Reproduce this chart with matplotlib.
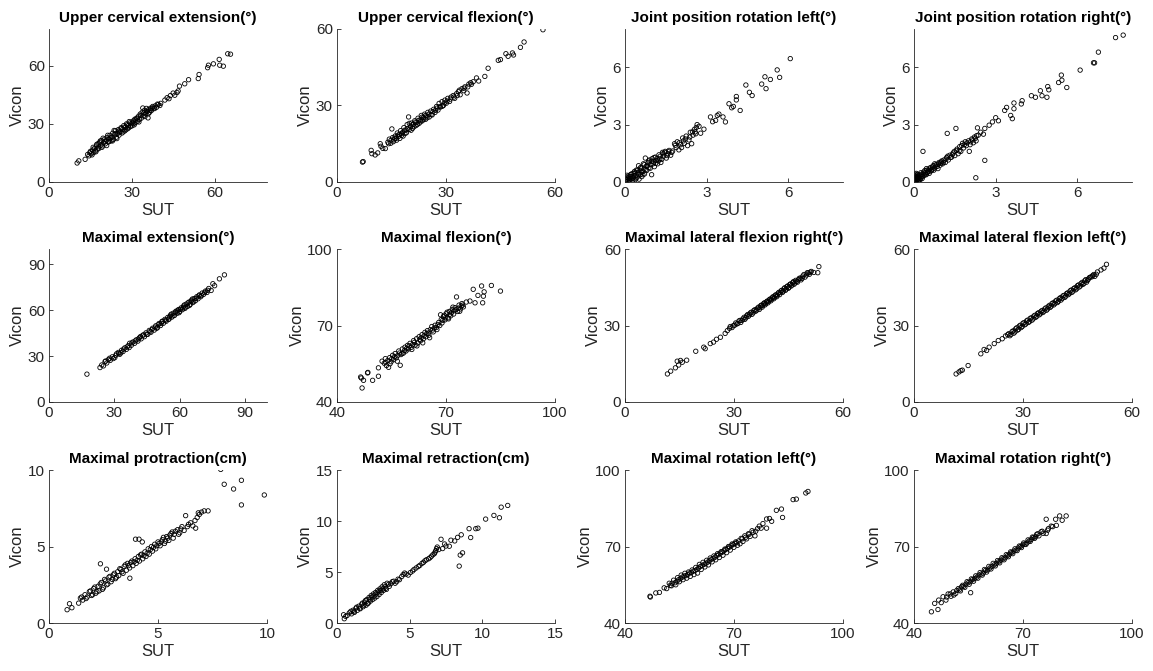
import numpy as np
import matplotlib
matplotlib.use('Agg')
import matplotlib.pyplot as plt

# SUT vs Vicon readings per test (sut, vicon)
upper_ext = [(10.2,9.8),(10.8,10.9),(13.1,11.7),(14.0,14.2),(14.5,13.5),(15.0,15.8),(15.3,14.6),(15.8,16.5),(16.2,15.2),(16.5,17.4),
             (16.9,16.1),(17.2,18.6),(17.5,17.0),(17.8,19.8),(18.1,18.2),(18.4,20.5),(18.8,19.0),(19.1,21.4),(19.4,18.6),(19.8,20.3),
             (20.1,22.1),(20.4,19.7),(20.8,21.5),(21.1,23.0),(21.5,20.6),(21.8,22.4),(22.1,24.1),(22.5,21.3),(22.8,23.2),(23.1,25.2),
             (23.4,22.0),(23.8,24.3),(24.1,26.4),(24.4,23.1),(24.8,25.0),(25.1,27.0),(25.4,24.2),(25.8,26.1),(26.1,28.0),(26.5,25.3),
             (26.8,27.2),(27.1,29.1),(27.5,26.4),(27.8,28.3),(28.1,30.0),(28.5,27.5),(28.8,29.2),(29.1,31.2),(29.5,28.6),(29.8,30.1),
             (30.1,29.0),(30.5,31.5),(30.8,30.2),(31.1,32.4),(31.5,30.8),(31.8,33.0),(32.1,31.4),(32.5,34.0),(32.8,32.3),(33.1,35.1),
             (33.5,33.0),(33.8,36.0),(34.0,38.2),(34.2,34.1),(34.6,37.0),(35.0,35.2),(35.3,38.0),(35.6,36.4),(35.9,33.1),(36.2,37.5),
             (36.5,36.0),(36.8,38.1),(37.2,37.0),(37.6,39.0),(38.0,38.2),(38.5,39.3),(39.0,38.6),(39.6,40.0),(40.2,39.5),(42.0,42.3),
             (42.8,43.5),(44.0,44.6),(45.0,45.9),(45.6,44.8),(46.4,46.2),(47.3,49.5),(49.2,50.7),(50.6,52.8),(54.1,53.4),(54.4,55.5),
             (57.5,59.0),(57.8,60.3),(59.6,61.0),(61.7,63.3),(61.9,60.3),(63.2,59.8),(64.8,66.2),(65.8,66.0),
             (14.8,15.1),(15.6,14.0),(16.0,17.9),(17.0,15.6),(17.3,19.4),(18.0,17.2),(18.6,21.2),(19.2,17.9),(19.6,22.6),(20.3,20.9),
             (20.9,18.8),(21.3,24.1),(21.9,21.0),(22.4,22.9),(23.0,21.2),(23.6,26.6),(24.0,24.9),(24.6,22.4),(25.2,26.3),(25.6,25.5),
             (26.3,27.6),(26.9,25.9),(27.3,28.3),(27.9,27.0),(28.3,29.5),(28.9,28.0),(29.3,30.5),(30.3,30.6),(30.9,29.5),(31.3,31.9),
             (32.0,32.9),(32.6,31.0),(33.3,34.3),(34.4,35.6),(34.8,33.8),(35.4,36.6),(36.0,35.2),(36.7,37.0),(37.4,38.2),(38.3,37.9),
             (39.3,40.2),(40.5,40.6),(43.5,43.0),(46.8,47.0)]

upper_flex = [(7.0,7.8),(7.2,8.0),(9.4,12.4),(9.6,11.1),(10.5,10.6),(11.2,11.4),(11.9,15.0),(12.1,14.0),(12.6,13.2),(13.3,13.1),
              (14.0,15.6),(14.4,16.8),(14.8,15.2),(15.1,20.8),(15.3,17.4),(15.7,16.5),(16.0,18.0),(16.3,17.1),(16.6,19.2),(16.9,17.8),
              (17.2,18.6),(17.5,20.1),(17.8,18.3),(18.1,19.5),(18.4,21.3),(18.7,19.0),(19.0,20.4),(19.3,22.5),(19.7,25.5),(19.9,20.6),
              (20.2,21.8),(20.5,23.1),(20.8,21.0),(21.1,22.6),(21.4,24.0),(21.7,22.1),(22.0,23.4),(22.3,25.0),(22.6,23.0),(22.9,24.3),
              (23.2,26.1),(23.5,24.0),(23.8,25.3),(24.1,26.6),(24.4,24.6),(24.7,25.9),(25.0,27.3),(25.4,25.5),(25.8,27.8),(26.2,26.3),
              (26.6,28.5),(27.0,27.3),(27.4,29.6),(27.8,28.2),(28.1,30.8),(28.5,29.4),(28.9,31.5),(29.3,30.0),(29.7,32.1),(30.1,30.9),
              (30.5,32.8),(31.0,31.6),(31.4,33.3),(32.0,33.9),(32.4,32.8),(32.9,34.6),(33.4,35.4),(33.9,34.2),(34.4,36.6),(34.9,35.8),
              (35.2,37.3),(35.8,34.9),(36.3,38.4),(36.8,38.9),(37.5,39.3),(38.4,40.8),(39.0,39.6),(40.7,41.4),(41.6,44.6),(44.4,47.7),
              (45.0,48.0),(46.5,50.3),(47.1,49.3),(48.3,50.6),(48.6,49.8),(50.5,52.8),(51.5,54.9),(56.7,59.7),
              (14.2,15.0),(14.9,16.4),(15.5,15.8),(15.9,17.2),(16.4,16.4),(16.8,18.4),(17.3,17.1),(17.7,19.0),(18.2,18.0),(18.6,20.3),
              (19.1,19.3),(19.5,21.0),(19.9,23.0),(20.4,20.3),(20.7,22.4),(21.2,21.7),(21.6,23.5),(22.1,22.5),(22.5,24.2),(23.0,23.6),
              (23.4,25.4),(23.9,24.6),(24.3,26.0),(24.8,25.2),(25.3,26.6),(25.9,26.4),(26.4,27.6),(27.1,28.1),(27.6,29.0),(28.3,29.6),
              (29.0,29.7),(29.6,31.0),(30.3,31.7),(31.2,32.5),(32.2,33.3),(33.1,33.9),(33.7,36.0),(35.0,36.8),(36.0,37.3),(37.0,38.3)]

jp_rot_left = [(0.02,0.05),(0.05,0.25),(0.08,0.12),(0.10,0.02),(0.12,0.30),(0.15,0.18),(0.18,0.05),(0.20,0.38),(0.22,0.15),(0.25,0.28),
               (0.28,0.08),(0.30,0.45),(0.32,0.22),(0.35,0.55),(0.38,0.12),(0.40,0.35),(0.42,0.62),(0.45,0.25),(0.48,0.48),(0.50,0.85),
               (0.52,0.15),(0.55,0.60),(0.58,0.40),(0.60,0.72),(0.62,0.28),(0.65,0.55),(0.68,0.95),(0.70,0.68),(0.72,0.42),(0.75,1.25),
               (0.78,0.82),(0.80,0.60),(0.85,1.02),(0.88,0.75),(0.90,1.15),(0.95,0.90),(0.98,0.38),(1.00,1.22),(1.05,1.05),(1.08,0.80),
               (1.12,1.30),(1.15,1.12),(1.20,0.95),(1.25,1.42),(1.28,1.20),(1.32,1.02),(1.38,1.55),(1.42,1.35),(1.48,1.60),(1.52,1.25),
               (1.58,1.48),(1.62,1.65),(1.68,1.40),(1.75,1.62),(1.82,2.00),(1.88,1.80),(1.92,2.10),(1.98,1.68),(2.05,1.95),(2.12,2.30),
               (2.18,2.02),(2.25,2.40),(2.30,1.90),(2.35,2.20),(2.40,2.60),(2.45,2.00),(2.50,2.45),(2.55,2.75),(2.60,2.52),(2.65,3.00),
               (2.72,2.91),(2.78,2.55),(2.90,2.76),(3.14,3.40),(3.22,3.15),(3.33,3.22),(3.39,3.48),(3.45,3.55),(3.60,3.40),(3.69,3.14),
               (3.82,4.09),(3.92,3.88),(3.98,3.95),(4.09,4.47),(4.09,4.29),(4.23,3.74),(4.44,5.07),(4.57,4.69),(4.67,4.52),(5.02,5.12),
               (5.14,5.50),(5.18,4.88),(5.34,5.36),(5.59,5.86),(5.68,5.47),(6.07,6.45),
               (0.03,0.15),(0.07,0.35),(0.11,0.20),(0.16,0.10),(0.19,0.28),(0.24,0.42),(0.27,0.18),(0.33,0.32),(0.37,0.48),(0.41,0.20),
               (0.46,0.62),(0.51,0.40),(0.57,0.75),(0.61,0.52),(0.66,0.38),(0.71,0.90),(0.77,0.65),(0.83,0.85),(0.87,1.10),(0.93,0.72),
               (0.97,1.08),(1.03,0.95),(1.07,1.28),(1.13,0.98),(1.18,1.22),(1.23,1.10),(1.30,1.35),(1.35,1.18),(1.40,1.48),(1.46,1.55),
               (1.55,1.38),(1.60,1.58),(1.72,1.55),(1.85,1.92),(2.00,2.05),(2.08,1.80),(2.15,2.15),(2.22,2.25),(2.38,2.35),(2.48,2.62),
               (2.58,2.62),(2.62,2.85)]

jp_rot_right = [(0.00,0.10),(0.02,0.35),(0.04,0.02),(0.06,0.20),(0.08,0.45),(0.10,0.08),(0.12,0.28),(0.14,0.15),(0.16,0.05),(0.18,0.38),
                (0.20,0.22),(0.22,0.10),(0.25,0.48),(0.28,0.30),(0.30,0.18),(0.33,1.60),(0.35,0.52),(0.38,0.35),(0.40,0.60),(0.43,0.42),
                (0.46,0.70),(0.50,0.50),(0.53,0.62),(0.56,0.45),(0.60,0.75),(0.63,0.58),(0.66,0.68),(0.70,0.85),(0.73,0.62),(0.76,0.95),
                (0.80,0.78),(0.84,0.92),(0.88,0.70),(0.92,1.02),(0.96,0.88),(1.00,1.05),(1.05,0.95),(1.10,1.15),(1.15,1.02),(1.22,2.54),
                (1.20,1.28),(1.26,1.15),(1.32,1.40),(1.38,1.30),(1.44,1.52),(1.50,1.38),(1.54,2.80),(1.56,1.65),(1.62,1.48),(1.68,1.85),
                (1.72,1.60),(1.78,2.02),(1.82,1.78),(1.88,2.10),(1.92,1.90),(2.00,2.15),(2.03,1.60),(2.06,1.95),(2.12,2.25),(2.18,2.05),
                (2.22,2.35),(2.27,0.22),(2.28,2.15),(2.33,2.83),(2.36,2.45),(2.45,2.60),(2.55,2.50),(2.60,2.80),(2.60,1.13),(2.76,2.97),
                (2.88,3.14),(3.00,3.36),(3.10,3.20),(3.33,3.74),(3.40,3.90),(3.55,3.48),(3.61,3.31),(3.67,4.13),(3.67,3.83),(3.94,4.08),
                (3.97,4.25),(4.31,4.51),(4.46,4.43),(4.64,4.77),(4.70,4.51),(4.88,4.43),(4.91,4.99),(4.95,4.82),(5.31,5.20),(5.41,5.59),
                (5.43,5.32),(5.61,4.94),(6.10,5.85),(6.59,6.23),(6.63,6.23),(6.77,6.79),(7.40,7.55),(7.68,7.68),
                (0.01,0.22),(0.03,0.05),(0.05,0.40),(0.07,0.12),(0.09,0.30),(0.11,0.18),(0.13,0.40),(0.15,0.05),(0.17,0.25),(0.19,0.12),
                (0.21,0.32),(0.24,0.18),(0.27,0.40),(0.32,0.28),(0.36,0.42),(0.41,0.50),(0.45,0.38),(0.48,0.62),(0.55,0.55),(0.58,0.68),
                (0.65,0.62),(0.68,0.78),(0.75,0.72),(0.78,0.88),(0.86,0.82),(0.90,0.95),(0.98,0.98),(1.02,1.10),(1.08,1.02),(1.18,1.20),
                (1.24,1.35),(1.34,1.28),(1.42,1.45),(1.48,1.60),(1.58,1.72),(1.66,1.62),(1.75,1.90),(1.85,1.95),(1.95,2.05),(2.08,2.10),
                (2.15,2.20),(2.25,2.28),(2.30,2.42)]

max_ext = [(17.4,18.2),(23.4,22.5),(24.2,24.2),(25.0,23.6),(25.7,26.4),(26.5,25.5),(27.3,27.8),(28.1,27.2),(29.0,29.5),(30.2,29.0),
           (31.0,31.5),(31.8,32.4),(32.5,31.2),(33.3,33.8),(34.0,33.0),(34.8,35.4),(35.5,34.4),(36.3,36.8),(37.0,38.4),(37.8,37.1),
           (38.5,39.2),(39.3,38.4),(40.0,40.6),(40.8,39.8),(41.5,42.0),(42.3,41.3),(43.0,43.6),(43.8,42.7),(44.5,45.2),(45.3,44.2),
           (46.0,46.8),(46.8,45.6),(47.5,48.2),(48.3,47.0),(49.0,49.8),(49.8,48.6),(50.5,51.3),(51.2,50.0),(51.8,52.6),(52.5,51.5),
           (53.2,54.0),(53.8,52.8),(54.5,55.3),(55.1,54.2),(55.8,56.8),(56.4,55.5),(57.0,58.0),(57.6,56.6),(58.2,59.3),(58.8,58.0),
           (59.4,60.4),(60.0,59.2),(60.6,61.5),(61.2,60.3),(61.8,62.7),(62.4,61.2),(63.0,64.0),(63.6,62.5),(64.2,65.3),(64.8,63.8),
           (65.4,66.5),(66.0,65.0),(66.6,67.6),(67.2,66.2),(67.8,68.8),(68.4,67.5),(69.0,70.0),(69.6,68.8),(70.3,71.2),(71.0,70.4),
           (71.8,72.5),(72.5,71.6),(73.3,74.2),(74.4,72.9),(75.2,77.3),(76.0,76.0),(78.2,80.5),(80.5,83.1),
           (26.0,26.8),(27.8,28.6),(29.5,28.4),(30.6,30.5),(32.0,31.6),(33.0,32.2),(34.3,34.6),(35.9,36.0),(36.8,35.6),(38.0,38.6),
           (39.6,39.9),(41.0,41.2),(42.0,42.8),(43.4,43.9),(44.8,44.3),(46.3,46.0),(47.2,47.3),(48.7,48.9),(49.4,48.2),(50.2,50.6),
           (51.5,51.4),(52.2,52.9),(53.5,53.4),(54.8,54.0),(55.4,55.8),(56.1,57.4),(56.9,56.3),(58.0,58.6),(59.0,59.8),(59.7,58.4),
           (60.3,60.5),(61.5,61.6),(62.1,63.4),(62.7,62.0),(63.8,64.8),(64.5,63.2),(65.1,65.8),(65.8,67.3),(66.4,65.6),(67.5,67.8),
           (68.8,69.4),(70.0,69.6),(71.4,71.6),(72.8,73.0)]

max_flex = [(46.5,49.8),(46.7,49.4),(46.9,45.5),(47.3,48.5),(48.4,51.4),(48.5,51.6),(49.8,48.5),(51.4,53.4),(51.4,50.1),(52.4,56.0),
            (53.0,55.2),(53.3,57.0),(53.6,54.3),(54.0,56.3),(54.2,53.6),(54.5,57.4),(54.9,55.8),(55.3,58.3),(55.6,56.6),(56.0,59.0),
            (56.3,57.3),(56.7,58.2),(57.0,60.0),(57.4,54.4),(57.6,58.6),(58.0,60.8),(58.3,59.2),(58.7,61.5),(59.0,60.0),(59.4,62.2),
            (59.7,60.8),(60.1,63.0),(60.4,61.4),(60.8,62.5),(61.1,64.1),(61.5,62.3),(61.9,64.8),(62.2,63.1),(62.6,65.6),(63.0,64.0),
            (63.4,66.4),(63.8,64.8),(64.2,67.3),(64.5,65.6),(64.9,68.0),(65.3,66.2),(65.7,68.4),(66.1,69.6),(66.5,67.5),(67.0,70.1),
            (67.5,68.4),(68.0,71.2),(68.5,74.2),(68.9,71.0),(69.3,73.5),(69.7,72.2),(70.1,74.6),(70.5,73.0),(70.9,75.5),(71.3,73.8),
            (71.7,76.3),(72.1,74.5),(72.5,77.0),(72.9,81.2),(73.2,75.5),(73.6,78.0),(74.0,76.5),(74.4,78.6),(74.8,77.3),(75.6,79.2),
            (76.6,79.6),(77.5,84.2),(78.0,78.9),(78.8,81.8),(79.8,85.5),(80.1,78.9),(80.3,81.5),(80.5,83.2),(82.5,85.7),(85.0,83.5),
            (53.4,55.6),(54.6,55.0),(55.1,57.0),(55.9,57.8),(56.6,56.0),(57.2,59.2),(57.9,59.0),(58.6,60.2),(59.2,61.0),(59.9,62.0),
            (60.6,60.6),(61.3,63.4),(62.0,62.0),(62.8,64.6),(63.2,65.2),(63.6,63.2),(64.0,66.0),(64.7,66.8),(65.1,67.0),(65.5,65.2),
            (66.3,68.2),(66.8,69.0),(67.3,69.2),(67.8,70.4),(68.3,70.0),(68.7,72.4),(69.1,72.0),(69.5,74.0),(69.9,73.0),(70.3,75.2),
            (70.7,72.6),(71.1,74.4),(71.5,75.0),(71.9,77.2),(72.3,75.8),(72.7,76.2),(73.4,76.8),(73.8,75.6),(74.2,77.6),(74.6,78.0)]

lat_flex_right = [(11.7,11.0),(12.6,12.1),(13.9,13.4),(14.4,16.0),(14.8,14.5),(15.3,16.3),(15.8,15.6),(17.0,16.4),(19.5,19.9),(21.7,21.5),
                  (22.1,20.9),(23.5,22.9),(24.4,23.5),(25.2,24.6),(26.3,25.4),(27.6,26.9),(28.2,28.0),(28.8,28.9),(29.5,29.2),(30.2,30.1),
                  (30.8,30.6),(31.4,31.8),(31.9,31.2),(32.5,32.6),(33.0,32.4),(33.5,33.8),(34.0,33.6),(34.5,34.9),(35.0,34.4),(35.5,35.9),
                  (36.0,35.6),(36.5,36.8),(37.0,36.3),(37.4,37.8),(37.8,37.2),(38.2,38.6),(38.6,38.1),(39.0,39.3),(39.4,38.9),(39.8,40.2),
                  (40.2,39.7),(40.6,41.0),(41.0,40.5),(41.4,41.9),(41.8,41.3),(42.2,42.7),(42.6,42.1),(43.0,43.6),(43.4,43.0),(43.8,44.4),
                  (44.2,43.8),(44.6,45.2),(45.0,44.6),(45.4,46.1),(45.8,45.5),(46.2,46.8),(46.6,46.2),(47.0,47.7),(47.5,47.0),(48.0,48.5),
                  (48.5,47.9),(49.0,49.4),(49.6,49.0),(50.2,50.7),(50.8,50.1),(51.3,51.2),(52.0,50.8),(53.1,50.7),(53.4,53.1),
                  (29.0,29.6),(29.8,29.9),(30.5,31.0),(31.1,30.8),(31.7,32.0),(32.2,32.0),(32.8,33.2),(33.3,33.0),(33.8,34.3),(34.3,34.2),
                  (34.8,35.2),(35.3,35.0),(35.8,36.2),(36.3,36.0),(36.8,37.2),(37.2,37.0),(37.6,38.0),(38.0,37.9),(38.4,38.9),(38.8,38.6),
                  (39.2,39.6),(39.6,39.5),(40.0,40.4),(40.4,40.3),(40.8,41.3),(41.2,41.0),(41.6,42.0),(42.0,41.9),(42.4,43.0),(42.8,42.9),
                  (43.2,43.8),(43.6,43.5),(44.0,44.8),(44.4,44.3),(44.8,45.5),(45.2,45.0),(45.6,46.3),(46.0,45.9),(46.4,47.2),(46.8,46.7),
                  (47.3,47.3),(47.8,48.0),(48.3,48.6),(48.8,48.5),(49.3,50.0),(50.0,49.8),(50.5,50.6),(51.0,50.9)]

lat_flex_left = [(11.6,11.0),(12.4,11.8),(12.9,12.3),(13.3,12.5),(14.9,14.3),(18.4,18.9),(19.3,20.6),(20.0,20.2),(20.7,21.5),(22.1,22.9),
                 (23.2,24.1),(24.3,24.8),(25.2,25.9),(25.8,26.4),(26.4,26.0),(27.0,27.6),(27.5,27.0),(28.0,28.7),(28.5,28.2),(29.0,29.8),
                 (29.5,29.2),(30.0,30.9),(30.5,30.3),(31.0,31.8),(31.5,31.2),(32.0,32.8),(32.5,32.1),(33.0,33.7),(33.5,33.2),(34.0,34.7),
                 (34.5,34.2),(35.0,35.6),(35.5,35.1),(36.0,36.5),(36.5,36.0),(37.0,37.5),(37.5,37.1),(38.0,38.6),(38.5,38.1),(39.0,39.6),
                 (39.5,39.0),(40.0,40.5),(40.5,40.0),(41.0,41.6),(41.5,41.0),(42.0,42.5),(42.5,42.1),(43.0,43.6),(43.5,43.0),(44.0,44.5),
                 (44.5,44.0),(45.0,45.6),(45.5,45.1),(46.0,46.5),(46.5,46.1),(47.0,47.5),(47.5,47.0),(48.0,48.2),(48.6,49.0),(49.2,49.6),
                 (49.8,49.3),(50.5,51.0),(51.5,51.8),(52.3,52.5),(53.0,54.0),
                 (26.1,26.8),(26.7,26.5),(27.3,27.9),(27.8,27.5),(28.3,29.1),(28.8,28.5),(29.3,30.1),(29.8,29.6),(30.3,31.1),(30.8,30.6),
                 (31.3,32.1),(31.8,31.5),(32.3,33.0),(32.8,32.6),(33.3,34.0),(33.8,33.6),(34.3,35.0),(34.8,34.6),(35.3,35.9),(35.8,35.6),
                 (36.3,36.9),(36.8,36.5),(37.3,37.9),(37.8,37.6),(38.3,38.9),(38.8,38.6),(39.3,39.9),(39.8,39.5),(40.3,40.9),(40.8,40.6),
                 (41.3,41.8),(41.8,41.5),(42.3,42.8),(42.8,42.5),(43.3,43.9),(43.8,43.5),(44.3,44.8),(44.8,44.4),(45.3,45.9),(45.8,45.5),
                 (46.3,46.9),(46.8,46.5),(47.3,48.0),(47.8,47.7),(48.3,48.8),(49.0,49.1),(49.5,50.0),(50.2,50.1)]

protraction = [(0.83,0.87),(0.94,1.26),(1.05,1.00),(1.36,1.30),(1.44,1.63),(1.55,1.50),(1.65,1.85),(1.75,1.70),(1.85,2.05),(1.95,1.80),
               (2.05,2.25),(2.15,1.95),(2.25,2.40),(2.30,2.10),(2.36,3.87),(2.40,2.65),(2.50,2.30),(2.55,2.85),(2.64,3.52),(2.65,2.50),
               (2.75,3.00),(2.85,2.70),(2.95,3.15),(3.05,2.90),(3.15,3.35),(3.20,3.10),(3.30,3.50),(3.40,3.25),(3.45,3.70),(3.55,3.45),
               (3.60,3.90),(3.71,2.93),(3.70,3.60),(3.80,4.05),(3.85,3.75),(3.95,4.20),(3.97,5.48),(4.00,3.90),(4.10,4.35),(4.13,5.48),
               (4.15,4.05),(4.25,4.50),(4.28,5.30),(4.30,4.20),(4.40,4.65),(4.45,4.35),(4.55,4.85),(4.60,4.50),(4.70,5.00),(4.75,4.70),
               (4.85,5.15),(4.90,4.85),(5.00,5.30),(5.10,5.05),(5.20,5.45),(5.30,5.20),(5.40,5.65),(5.50,5.40),(5.60,5.85),(5.70,5.55),
               (5.80,6.00),(5.95,5.80),(6.05,6.15),(6.20,6.05),(6.27,7.02),(6.35,6.30),(6.50,6.55),(6.60,6.35),(6.73,6.20),(6.80,6.90),
               (6.90,7.10),(7.12,7.33),(7.30,7.33),(7.88,10.04),(8.04,9.07),(8.47,8.76),(8.83,9.33),(8.83,7.72),(9.88,8.37),
               (1.50,1.70),(1.70,1.60),(1.90,2.10),(2.00,1.85),(2.10,2.35),(2.20,2.05),(2.35,2.55),(2.45,2.20),(2.60,2.75),(2.70,2.55),
               (2.80,3.05),(2.90,2.85),(3.00,3.25),(3.10,3.00),(3.25,3.55),(3.35,3.35),(3.50,3.80),(3.65,3.75),(3.75,3.95),(3.90,4.00),
               (4.05,4.10),(4.20,4.45),(4.35,4.40),(4.50,4.55),(4.65,4.80),(4.80,4.95),(4.95,5.05),(5.05,5.20),(5.15,5.30),(5.25,5.60),
               (5.35,5.35),(5.45,5.55),(5.55,5.75),(5.65,5.95),(5.75,5.80),(5.90,6.10),(6.00,5.90),(6.10,6.30),(6.40,6.45),(6.70,6.70),
               (6.85,7.20),(7.00,7.25)]

retraction = [(0.50,0.42),(0.45,0.81),(0.70,0.75),(0.85,1.00),(1.00,0.90),(1.10,1.25),(1.20,1.05),(1.30,1.45),(1.40,1.25),(1.50,1.65),
              (1.60,1.40),(1.70,1.85),(1.80,1.60),(1.90,2.05),(2.00,1.75),(2.05,2.30),(2.15,1.95),(2.20,2.50),(2.30,2.15),(2.35,2.70),
              (2.45,2.30),(2.50,2.85),(2.60,2.45),(2.65,3.00),(2.75,2.60),(2.80,3.20),(2.90,2.80),(2.95,3.35),(3.05,3.00),(3.10,3.55),
              (3.20,3.20),(3.25,3.75),(3.35,3.40),(3.45,3.90),(3.60,3.60),(3.80,4.05),(4.00,3.90),(4.20,4.30),(4.45,4.55),(4.65,4.90),
              (4.90,4.70),(5.20,5.10),(5.45,5.40),(5.70,5.65),(5.95,5.95),(6.15,6.20),(6.40,6.40),(6.60,6.70),(6.75,6.95),(6.85,7.30),
              (7.16,8.21),(7.27,7.30),(7.50,7.55),(7.73,7.53),(7.84,8.12),(8.10,8.05),(8.30,8.40),(8.41,5.58),(8.48,6.66),(8.55,8.65),
              (8.64,6.88),(9.09,9.25),(9.20,8.38),(9.55,9.25),(9.70,9.30),(10.23,10.19),(10.80,10.55),(11.18,10.32),(11.30,11.36),(11.75,11.53),
              (0.60,0.65),(0.95,1.15),(1.15,1.10),(1.35,1.55),(1.55,1.45),(1.75,1.95),(1.85,1.75),(1.95,2.20),(2.10,1.90),(2.25,2.35),
              (2.40,2.55),(2.55,2.65),(2.70,2.85),(2.85,3.05),(3.00,3.20),(3.15,3.35),(3.30,3.55),(3.40,3.30),(3.55,3.80),(3.70,3.85),
              (3.90,4.10),(4.10,4.05),(4.30,4.25),(4.55,4.75),(4.75,4.80),(5.05,4.95),(5.30,5.25),(5.60,5.55),(5.85,5.85),(6.05,6.10),
              (6.30,6.30),(6.50,6.55),(6.70,6.80),(6.80,7.10),(6.90,7.45),(7.00,7.20),(7.40,7.75)]

rot_left = [(46.9,50.5),(47.0,50.2),(48.5,51.8),(49.5,52.0),(50.8,53.8),(51.5,53.5),(52.2,55.6),(52.8,54.6),(53.4,56.8),(54.0,55.0),
            (54.5,57.8),(55.0,56.2),(55.5,58.8),(56.0,57.0),(56.5,59.5),(57.0,57.6),(57.5,60.0),(58.0,58.3),(58.5,60.8),(59.0,59.0),
            (59.5,61.8),(60.0,59.6),(60.5,63.0),(61.0,61.0),(61.5,63.8),(62.0,62.0),(62.5,64.6),(63.0,62.8),(63.5,65.5),(64.0,64.0),
            (64.5,66.3),(65.0,64.8),(65.5,67.2),(66.0,65.7),(66.5,68.0),(67.0,66.6),(67.5,69.0),(68.0,67.6),(68.5,70.0),(69.0,68.6),
            (69.5,71.0),(70.0,69.7),(70.5,71.8),(71.0,70.5),(71.7,71.1),(72.0,73.2),(72.5,72.0),(73.0,74.2),(73.5,73.0),(74.0,75.0),
            (74.5,74.0),(75.0,76.2),(75.8,74.2),(76.5,77.0),(77.0,78.0),(77.5,77.2),(78.0,79.0),(79.0,77.2),(79.0,80.8),(79.8,81.0),
            (80.4,79.9),(81.7,84.2),(83.1,84.7),(83.4,81.4),(86.3,88.4),(87.2,88.6),(89.8,91.0),(90.4,91.6),
            (52.5,54.8),(53.0,55.6),(53.8,55.8),(54.3,56.4),(54.8,57.0),(55.3,57.5),(55.8,58.0),(56.3,58.4),(56.8,58.6),(57.3,59.0),
            (57.8,59.6),(58.3,59.8),(58.8,60.3),(59.3,60.6),(59.8,61.0),(60.3,61.6),(60.8,62.2),(61.3,62.6),(61.8,63.0),(62.3,63.4),
            (62.8,63.9),(63.3,64.4),(63.8,65.0),(64.3,65.3),(64.8,65.8),(65.3,66.5),(65.8,66.8),(66.3,67.4),(66.8,67.8),(67.3,68.3),
            (67.8,68.9),(68.3,69.3),(68.8,69.8),(69.3,70.3),(69.8,70.8),(70.3,71.2),(70.8,71.5),(71.3,72.2),(72.3,73.0),(73.2,73.6),
            (74.2,74.8),(75.3,75.6),(76.0,76.0)]

rot_right = [(44.8,44.4),(45.7,47.7),(46.6,45.3),(46.8,49.0),(47.5,48.0),(48.0,50.3),(48.8,49.0),(49.4,51.4),(50.2,50.5),(50.8,52.2),
             (51.5,51.6),(52.2,53.5),(52.8,52.6),(53.4,54.8),(54.0,54.0),(54.6,56.2),(55.2,55.2),(55.6,51.9),(55.8,57.3),(56.4,56.4),
             (57.0,58.5),(57.6,57.6),(58.2,59.8),(58.8,58.8),(59.4,61.0),(60.0,60.0),(60.6,62.2),(61.2,61.2),(61.8,63.4),(62.4,62.4),
             (63.0,64.5),(63.6,63.6),(64.2,65.6),(64.8,64.8),(65.4,66.8),(66.0,66.0),(66.6,67.9),(67.2,67.2),(67.8,69.1),(68.4,68.4),
             (69.0,70.2),(69.6,69.6),(70.2,71.4),(70.8,70.8),(71.4,72.6),(72.0,72.0),(72.6,73.7),(73.2,73.2),(73.8,74.8),(74.4,74.2),
             (75.0,75.8),(75.6,75.2),(76.4,75.1),(76.4,80.7),(77.0,77.0),(77.8,78.0),(79.0,80.7),(79.2,78.3),(80.1,82.0),(80.8,80.3),
             (81.9,82.0),
             (49.0,50.2),(50.0,51.4),(51.0,51.0),(51.8,52.8),(52.5,53.0),(53.1,54.2),(53.7,54.4),(54.3,55.2),(54.9,55.8),(55.5,56.2),
             (56.1,57.0),(56.7,57.4),(57.3,58.0),(57.9,58.8),(58.5,59.2),(59.1,59.6),(59.7,60.6),(60.3,60.8),(60.9,61.6),(61.5,62.2),
             (62.1,62.8),(62.7,63.4),(63.3,64.0),(63.9,64.6),(64.5,65.2),(65.1,65.6),(65.7,66.4),(66.3,67.0),(66.9,67.6),(67.5,68.2),
             (68.1,68.6),(68.7,69.4),(69.3,70.0),(69.9,70.6),(70.5,71.0),(71.1,71.4),(71.7,72.2),(72.3,72.8),(72.9,73.6),(73.5,73.8),
             (74.1,75.0),(75.3,76.0),(76.8,76.4),(78.2,77.8)]

titles = ['Upper cervical extension(°)', 'Upper cervical flexion(°)', 'Joint position rotation left(°)', 'Joint position rotation right(°)',
          'Maximal extension(°)', 'Maximal flexion(°)', 'Maximal lateral flexion right(°)', 'Maximal lateral flexion left(°)',
          'Maximal protraction(cm)', 'Maximal retraction(cm)', 'Maximal rotation left(°)', 'Maximal rotation right(°)']
datasets = [upper_ext, upper_flex, jp_rot_left, jp_rot_right,
            max_ext, max_flex, lat_flex_right, lat_flex_left,
            protraction, retraction, rot_left, rot_right]
limits = [(0, 79), (0, 60), (0, 8), (0, 8),
          (0, 100), (40, 100), (0, 60), (0, 60),
          (0, 10), (0, 15), (40, 100), (40, 100)]
ticks = [[0, 30, 60], [0, 30, 60], [0, 3, 6], [0, 3, 6],
         [0, 30, 60, 90], [40, 70, 100], [0, 30, 60], [0, 30, 60],
         [0, 5, 10], [0, 5, 10, 15], [40, 70, 100], [40, 70, 100]]

plt.rcParams['font.family'] = ['Liberation Sans', 'DejaVu Sans']
grey = '#262626'

fig = plt.figure(figsize=(11.53, 6.71), dpi=100)
lefts = [0.0425, 0.2923, 0.542, 0.7927]
bottoms = [0.7288, 0.4009, 0.0715]
w, h = 0.189, 0.228

for i, pts in enumerate(datasets):
    r, c = divmod(i, 4)
    ax = fig.add_axes([lefts[c], bottoms[r], w, h])
    pts = np.array(pts)
    ax.scatter(pts[:, 0], pts[:, 1], s=10, facecolors='none', edgecolors='black', linewidths=0.6)
    ax.set_xlim(limits[i])
    ax.set_ylim(limits[i])
    ax.set_xticks(ticks[i])
    ax.set_yticks(ticks[i])
    for side in ['top', 'right']:
        ax.spines[side].set_visible(False)
    for side in ['left', 'bottom']:
        ax.spines[side].set_color(grey)
        ax.spines[side].set_linewidth(0.6)
    ax.tick_params(direction='in', length=3, width=0.6, colors=grey, labelsize=11, pad=3)
    ax.set_xlabel('SUT', fontsize=12, color=grey, labelpad=2)
    ax.set_ylabel('Vicon', fontsize=12, color=grey, labelpad=2)
    ax.set_title(titles[i], fontsize=11, fontweight='bold', pad=5)

fig.savefig('out.png', dpi=100)
